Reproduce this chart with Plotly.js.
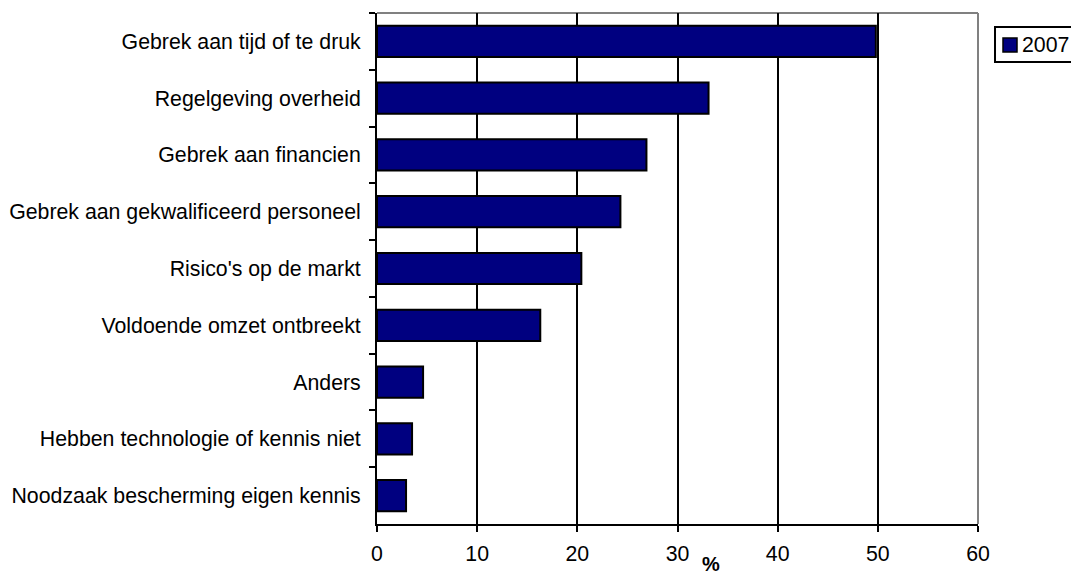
<!DOCTYPE html>
<html>
<head>
<meta charset="utf-8">
<script src="https://cdn.plot.ly/plotly-3.0.1.min.js"></script>
<style>html,body{margin:0;padding:0;background:#fff;}#chart{width:1071px;height:576px;}</style>
</head>
<body>
<div id="chart"></div>
<script>
const categories = [
  "Gebrek aan tijd of te druk",
  "Regelgeving overheid",
  "Gebrek aan financien",
  "Gebrek aan gekwalificeerd personeel",
  "Risico's op de markt",
  "Voldoende omzet ontbreekt",
  "Anders",
  "Hebben technologie of kennis niet",
  "Noodzaak bescherming eigen kennis"
];
const values2007 = [49.8, 33.1, 26.9, 24.3, 20.4, 16.3, 4.6, 3.5, 2.9];
const seriesName = "2007";
const xTicks = [0, 10, 20, 30, 40, 50, 60];
const xTitle = "%";

const font = "Arial, 'Liberation Sans', sans-serif";
const fs = 21.3;
const barColor = "#000080";

const trace = {
  type: "bar",
  orientation: "h",
  y: categories,
  x: values2007,
  name: seriesName,
  marker: {color: barColor, line: {color: "#000000", width: 2}},
  showlegend: false,
  hoverinfo: "x+y"
};

const layout = {
  width: 1071, height: 576,
  margin: {l: 377, r: 93, t: 13, b: 52, pad: 0, autoexpand: false},
  paper_bgcolor: "#ffffff",
  plot_bgcolor: "#ffffff",
  font: {family: font, size: fs, color: "#000000"},
  bargap: 0.45,
  showlegend: false,
  xaxis: {
    range: [0, 60], tickvals: xTicks, ticktext: xTicks.map(String),
    showgrid: true, gridcolor: "#000000", gridwidth: 2,
    showline: true, linecolor: "#000000", linewidth: 2,
    ticks: "outside", ticklen: 6, tickwidth: 2, tickcolor: "#000000",
    zeroline: false, ticklabelstandoff: 3, automargin: false,
    tickfont: {family: font, size: fs, color: "#000000"},
    fixedrange: true
  },
  yaxis: {
    type: "category", autorange: "reversed",
    showgrid: false, showline: true, linecolor: "#000000", linewidth: 2,
    ticks: "outside", ticklen: 6, tickwidth: 2, tickcolor: "#000000",
    tickson: "boundaries", ticklabelstandoff: 10, automargin: false,
    tickfont: {family: font, size: fs, color: "#000000"},
    zeroline: false, fixedrange: true
  },
  shapes: [
    {type: "line", xref: "paper", yref: "paper", x0: 0, x1: 1, y0: 1, y1: 1,
     line: {color: "#808080", width: 2}, layer: "below"},
    {type: "line", xref: "paper", yref: "paper", x0: 1, x1: 1, y0: 0, y1: 1,
     line: {color: "#808080", width: 2}, layer: "below"},
    // legend box
    {type: "rect", xref: "paper", yref: "paper", x0: 1.0283, x1: 1.16, y0: 0.9041, y1: 0.9726,
     line: {color: "#000000", width: 2}, fillcolor: "#ffffff"},
    // legend swatch
    {type: "rect", xref: "paper", yref: "paper", x0: 1.0416, x1: 1.0649, y0: 0.9237, y1: 0.9511,
     line: {color: "#000000", width: 1.5}, fillcolor: barColor}
  ],
  annotations: [
    {text: seriesName, xref: "paper", yref: "paper",
     x: 1.0699, y: 0.9374, xanchor: "left", yanchor: "middle",
     showarrow: false, font: {family: font, size: fs, color: "#000000"}},
    {text: "<b>" + xTitle + "</b>", xref: "paper", yref: "paper",
     x: 0.556, y: 0, yshift: -53, xanchor: "center", yanchor: "bottom",
     showarrow: false, font: {family: font, size: 20, color: "#000000"}}
  ]
};

Plotly.newPlot("chart", [trace], layout, {displayModeBar: false, staticPlot: true});
</script>
</body>
</html>
